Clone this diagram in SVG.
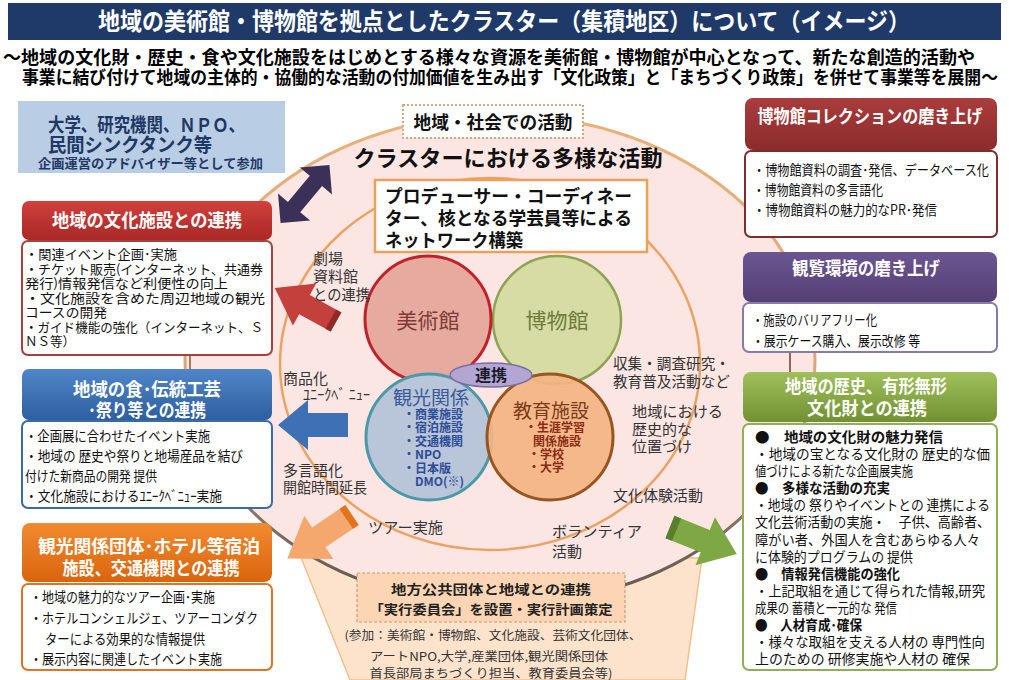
<svg xmlns="http://www.w3.org/2000/svg" width="1009" height="680" viewBox="0 0 1009 680">
<defs>
  <linearGradient id="ring" x1="0" y1="0" x2="0" y2="1">
    <stop offset="0" stop-color="#e9b27a"/>
    <stop offset="0.55" stop-color="#dca57a"/>
    <stop offset="0.8" stop-color="#8a7668"/>
    <stop offset="1" stop-color="#5e534c"/>
  </linearGradient>
  <linearGradient id="gRed" x1="0" y1="0" x2="0" y2="1"><stop offset="0" stop-color="#d1403c"/><stop offset="1" stop-color="#a92826"/></linearGradient>
  <linearGradient id="gBlue" x1="0" y1="0" x2="0" y2="1"><stop offset="0" stop-color="#4f86c8"/><stop offset="1" stop-color="#2e5f9f"/></linearGradient>
  <linearGradient id="gOrange" x1="0" y1="0" x2="0" y2="1"><stop offset="0" stop-color="#f28a30"/><stop offset="1" stop-color="#d9650d"/></linearGradient>
  <linearGradient id="gMaroon" x1="0" y1="0" x2="0" y2="1"><stop offset="0" stop-color="#aa3c3c"/><stop offset="1" stop-color="#8c2c2c"/></linearGradient>
  <linearGradient id="gPurple" x1="0" y1="0" x2="0" y2="1"><stop offset="0" stop-color="#6b5692"/><stop offset="1" stop-color="#553f74"/></linearGradient>
  <linearGradient id="gGreen" x1="0" y1="0" x2="0" y2="1"><stop offset="0" stop-color="#a0c05c"/><stop offset="1" stop-color="#719132"/></linearGradient>
</defs>
<style>
  text { font-family: "Noto Sans CJK JP", "Noto Sans CJK SC", sans-serif; }
  .b { font-weight: 700; }
  .hd { fill: #ffffff; font-weight: 700; font-size: 18px; }
  .bd { fill: #111111; font-size: 14px; }
  .sm { fill: #111111; font-size: 13px; }
  .lbl { fill: #333333; font-size: 15px; }
  .body { fill: #ffffff; stroke-width: 2; }
</style>

<rect x="0" y="0" width="1009" height="680" fill="#ffffff"/>

<!-- background shapes -->
<g id="background">
  <polygon points="300,555 350,680 685,680 702,558" fill="#fde3cc" stroke="#f2c08e" stroke-width="1.5"/>
  <ellipse cx="500" cy="360" rx="315" ry="245" fill="#fce6e3" stroke="url(#ring)" stroke-width="3"/>
  <ellipse cx="490" cy="364" rx="210" ry="186" fill="none" stroke="#eba262" stroke-width="2.5"/>
</g>

<!-- title -->
<g id="title">
  <rect x="8" y="3" width="993" height="37" fill="#1f3a68"/>
  <text x="504" y="30" text-anchor="middle" class="b" font-size="24" fill="#ffffff" textLength="812" lengthAdjust="spacingAndGlyphs">地域の美術館・博物館を拠点としたクラスター（集積地区）について（イメージ）</text>
  <text x="3" y="64" class="b" font-size="18" fill="#000" textLength="972" lengthAdjust="spacingAndGlyphs">～地域の文化財・歴史・食や文化施設をはじめとする様々な資源を美術館・博物館が中心となって、新たな創造的活動や</text>
  <text x="22" y="84" class="b" font-size="18" fill="#000" textLength="976" lengthAdjust="spacingAndGlyphs">事業に結び付けて地域の主体的・協働的な活動の付加価値を生み出す「文化政策」と「まちづくり政策」を併せて事業等を展開～</text>
</g>

<!-- connectors -->
<g id="connectors">
  <line x1="190" y1="355" x2="190" y2="370" stroke="#a87a5a" stroke-width="2"/>
  <line x1="790" y1="352" x2="790" y2="374" stroke="#8a6a5a" stroke-width="2"/>
  <!-- double arrow -->
  <polygon points="-38,0 -17,-21 -17,-8 17,-8 17,-21 38,0 17,21 17,8 -17,8 -17,21" transform="translate(305,194) rotate(-50)" fill="#3b3158"/>
  <!-- red arrow -->
  <polygon points="0,-11 36,-11 36,-24 70,0 36,24 36,11 0,11" transform="translate(336,322) rotate(209)" fill="#c4403c"/>
  <polygon points="0,-11 6,-11 6,11 0,11" transform="translate(336,322) rotate(209)" fill="#8e2a28"/>
  <!-- blue arrow -->
  <polygon points="0,-12 40,-12 40,-25 70,0 40,25 40,12 0,12" transform="translate(348,425) rotate(180)" fill="#3d70b4"/>
  <!-- orange arrow -->
  <polygon points="0,-12 40,-12 40,-26 78,0 40,26 40,12 0,12" transform="translate(352,515) rotate(146)" fill="#f5a86e"/>
  <polygon points="0,-12 7,-12 7,12 0,12" transform="translate(352,515) rotate(146)" fill="#e3731c"/>
  <!-- green arrow -->
  <polygon points="0,-12 38,-12 38,-26 72,0 38,26 38,12 0,12" transform="translate(670,527) rotate(22)" fill="#7ea844"/>
  <polygon points="0,-12 7,-12 7,12 0,12" transform="translate(670,527) rotate(22)" fill="#5a7e2a"/>
</g>

<!-- left nodes -->
<g id="node-university">
  <rect x="18" y="101" width="267" height="72" fill="#b9cde4"/>
  <text x="48" y="132" class="b" font-size="19" fill="#1f3864" textLength="197" lengthAdjust="spacingAndGlyphs">大学、研究機関、ＮＰＯ、</text>
  <text x="48" y="152" class="b" font-size="19" fill="#1f3864" textLength="164" lengthAdjust="spacingAndGlyphs">民間シンクタンク等</text>
  <text x="38" y="168" class="b" font-size="13" fill="#1f3864" textLength="225" lengthAdjust="spacingAndGlyphs">企画運営のアドバイザー等として参加</text>
</g>

<g id="node-culture-facility">
  <rect x="22" y="241" width="250" height="114" rx="6" class="body" stroke="#a8403e"/>
  <rect x="22" y="201" width="250" height="39" rx="7" fill="url(#gRed)"/>
  <text x="147" y="227" text-anchor="middle" class="hd" textLength="190" lengthAdjust="spacingAndGlyphs">地域の文化施設との連携</text>
  <text x="25" y="259" class="sm" textLength="152" lengthAdjust="spacingAndGlyphs">・関連イベント企画･実施</text>
  <text x="25" y="274" class="sm" textLength="238" lengthAdjust="spacingAndGlyphs">・チケット販売(インターネット、共通券</text>
  <text x="25" y="288" class="sm" textLength="203" lengthAdjust="spacingAndGlyphs">発行)情報発信など利便性の向上</text>
  <text x="25" y="303" class="sm" textLength="240" lengthAdjust="spacingAndGlyphs">・文化施設を含めた周辺地域の観光</text>
  <text x="25" y="317" class="sm" textLength="82" lengthAdjust="spacingAndGlyphs">コースの開発</text>
  <text x="25" y="332" class="sm" textLength="238" lengthAdjust="spacingAndGlyphs">・ガイド機能の強化（インターネット、Ｓ</text>
  <text x="25" y="346" class="sm" textLength="50" lengthAdjust="spacingAndGlyphs">ＮＳ等）</text>
</g>

<g id="node-food-craft">
  <rect x="22" y="421" width="250" height="87" rx="6" class="body" stroke="#3a6aa8"/>
  <rect x="22" y="369" width="250" height="51" rx="7" fill="url(#gBlue)"/>
  <text x="147" y="396" text-anchor="middle" class="hd" textLength="148" lengthAdjust="spacingAndGlyphs">地域の食･伝統工芸</text>
  <text x="147" y="417" text-anchor="middle" class="hd" textLength="118" lengthAdjust="spacingAndGlyphs">･祭り等との連携</text>
  <text x="25" y="441" class="bd" textLength="185" lengthAdjust="spacingAndGlyphs">・企画展に合わせたイベント実施</text>
  <text x="25" y="461" class="bd" textLength="218" lengthAdjust="spacingAndGlyphs">・地域の 歴史や祭りと地場産品を結び</text>
  <text x="25" y="481" class="bd" textLength="132" lengthAdjust="spacingAndGlyphs">付けた新商品の開発 提供</text>
  <text x="25" y="501" class="bd" textLength="197" lengthAdjust="spacingAndGlyphs">・文化施設におけるﾕﾆｰｸﾍﾞﾆｭｰ実施</text>
</g>

<g id="node-tourism">
  <rect x="22" y="584" width="250" height="86" rx="6" class="body" stroke="#e07424"/>
  <rect x="22" y="523" width="250" height="59" rx="8" fill="url(#gOrange)"/>
  <text x="149" y="553" text-anchor="middle" class="hd" textLength="222" lengthAdjust="spacingAndGlyphs">観光関係団体･ホテル等宿泊</text>
  <text x="151" y="575" text-anchor="middle" class="hd" textLength="177" lengthAdjust="spacingAndGlyphs">施設、交通機関との連携</text>
  <text x="30" y="602" class="bd" textLength="185" lengthAdjust="spacingAndGlyphs">・地域の魅力的なツアー企画･実施</text>
  <text x="30" y="623" class="bd" textLength="228" lengthAdjust="spacingAndGlyphs">・ホテルコンシェルジェ、ツアーコンダク</text>
  <text x="45" y="644" class="bd" textLength="160" lengthAdjust="spacingAndGlyphs">ターによる効果的な情報提供</text>
  <text x="30" y="664" class="bd" textLength="192" lengthAdjust="spacingAndGlyphs">・展示内容に関連したイベント実施</text>
</g>

<!-- right nodes -->
<g id="node-collection">
  <rect x="745" y="151" width="252" height="86" rx="6" class="body" stroke="#7e2c2c"/>
  <rect x="745" y="98" width="252" height="52" rx="8" fill="url(#gMaroon)"/>
  <text x="870" y="123" text-anchor="middle" class="hd" font-size="17" textLength="225" lengthAdjust="spacingAndGlyphs">博物館コレクションの磨き上げ</text>
  <text x="753" y="175" class="bd" textLength="236" lengthAdjust="spacingAndGlyphs">・博物館資料の調査･発信、データベース化</text>
  <text x="753" y="195" class="bd" textLength="130" lengthAdjust="spacingAndGlyphs">・博物館資料の多言語化</text>
  <text x="753" y="215" class="bd" textLength="184" lengthAdjust="spacingAndGlyphs">・博物館資料の魅力的なPR･発信</text>
</g>

<g id="node-viewing">
  <rect x="743" y="303" width="254" height="49" rx="6" class="body" stroke="#8a7aa8"/>
  <rect x="743" y="252" width="254" height="50" rx="8" fill="url(#gPurple)"/>
  <text x="866" y="275" text-anchor="middle" class="hd" font-size="17" textLength="148" lengthAdjust="spacingAndGlyphs">観覧環境の磨き上げ</text>
  <text x="752" y="325" class="bd" textLength="125" lengthAdjust="spacingAndGlyphs">・施設のバリアフリー化</text>
  <text x="752" y="346" class="bd" textLength="168" lengthAdjust="spacingAndGlyphs">・展示ケース購入、展示改修 等</text>
</g>

<g id="node-heritage">
  <rect x="743" y="424" width="254" height="246" rx="6" class="body" stroke="#8fb055"/>
  <rect x="743" y="372" width="254" height="50" rx="8" fill="url(#gGreen)"/>
  <text x="866" y="393" text-anchor="middle" class="hd" font-size="17" textLength="162" lengthAdjust="spacingAndGlyphs">地域の歴史、有形無形</text>
  <text x="867" y="415" text-anchor="middle" class="hd" font-size="17" textLength="120" lengthAdjust="spacingAndGlyphs">文化財との連携</text>
  <text x="755" y="442" class="bd b" textLength="188" lengthAdjust="spacingAndGlyphs">●　地域の文化財の魅力発信</text>
  <text x="755" y="459" class="bd" textLength="235" lengthAdjust="spacingAndGlyphs">・地域の宝となる文化財の 歴史的な価</text>
  <text x="755" y="476" class="bd" textLength="158" lengthAdjust="spacingAndGlyphs">値づけによる新たな企画展実施</text>
  <text x="755" y="493" class="bd b" textLength="135" lengthAdjust="spacingAndGlyphs">●　多様な活動の充実</text>
  <text x="755" y="510" class="bd" textLength="235" lengthAdjust="spacingAndGlyphs">・地域の 祭りやイベントとの 連携による</text>
  <text x="755" y="527" class="bd" textLength="235" lengthAdjust="spacingAndGlyphs">文化芸術活動の実施・　子供、高齢者、</text>
  <text x="755" y="545" class="bd" textLength="225" lengthAdjust="spacingAndGlyphs">障がい者、外国人を含むあらゆる人々</text>
  <text x="755" y="562" class="bd" textLength="158" lengthAdjust="spacingAndGlyphs">に体験的プログラムの 提供</text>
  <text x="755" y="579" class="bd b" textLength="145" lengthAdjust="spacingAndGlyphs">●　情報発信機能の強化</text>
  <text x="755" y="596" class="bd" textLength="230" lengthAdjust="spacingAndGlyphs">・上記取組を通じて得られた情報,研究</text>
  <text x="755" y="613" class="bd" textLength="142" lengthAdjust="spacingAndGlyphs">成果の 蓄積と一元的な 発信</text>
  <text x="755" y="630" class="bd b" textLength="107" lengthAdjust="spacingAndGlyphs">●　人材育成･確保</text>
  <text x="755" y="647" class="bd" textLength="230" lengthAdjust="spacingAndGlyphs">・様々な取組を支える人材の 専門性向</text>
  <text x="755" y="664" class="bd" textLength="215" lengthAdjust="spacingAndGlyphs">上のための 研修実施や人材の 確保</text>
</g>

<!-- center nodes -->
<g id="node-society">
  <rect x="403" y="105" width="180" height="33" fill="#ffffff" stroke="#d9a878" stroke-width="2" stroke-dasharray="2,2"/>
  <text x="493" y="129" text-anchor="middle" class="b" font-size="18" fill="#111" textLength="159" lengthAdjust="spacingAndGlyphs">地域・社会での活動</text>
</g>

<g id="node-cluster-title">
  <text x="508" y="166" text-anchor="middle" class="b" font-size="22" fill="#111" textLength="309" lengthAdjust="spacingAndGlyphs">クラスターにおける多様な活動</text>
</g>

<g id="node-producer">
  <rect x="375" y="180" width="272" height="72" fill="#ffffff" stroke="#eda05a" stroke-width="2.5"/>
  <text x="385" y="203" class="b" font-size="18" fill="#111" textLength="247" lengthAdjust="spacingAndGlyphs">プロデューサー・コーディネー</text>
  <text x="385" y="225" class="b" font-size="18" fill="#111" textLength="247" lengthAdjust="spacingAndGlyphs">ター、核となる学芸員等による</text>
  <text x="385" y="247" class="b" font-size="18" fill="#111" textLength="138" lengthAdjust="spacingAndGlyphs">ネットワーク構築</text>
</g>

<g id="node-museum-history">
  <circle cx="557" cy="320" r="64" fill="#d6dca4" stroke="#8ea454" stroke-width="2.5"/>
  <text x="557" y="328" text-anchor="middle" font-size="21" fill="#6e7a3c">博物館</text>
</g>

<g id="node-museum-art">
  <circle cx="428" cy="319" r="63" fill="#e6a69b" fill-opacity="0.95" stroke="#c2202b" stroke-width="3"/>
  <text x="428" y="328" text-anchor="middle" font-size="21" fill="#7e3a36">美術館</text>
</g>

<g id="node-tourism-circle">
  <circle cx="429" cy="437" r="63" fill="#b9c5d8" stroke="#4b98a8" stroke-width="3"/>
  <text x="431" y="405" text-anchor="middle" font-size="19" fill="#3b5a98">観光関係</text>
  <text x="403" y="419" class="b" font-size="12" fill="#2d4d98">・商業施設</text>
  <text x="403" y="432" class="b" font-size="12" fill="#2d4d98">・宿泊施設</text>
  <text x="403" y="446" class="b" font-size="12" fill="#2d4d98">・交通機関</text>
  <text x="403" y="459" class="b" font-size="12" fill="#2d4d98">・NPO</text>
  <text x="403" y="473" class="b" font-size="12" fill="#2d4d98">・日本版</text>
  <text x="415" y="486" class="b" font-size="12" fill="#2d4d98">DMO(※)</text>
</g>

<g id="node-education">
  <circle cx="550" cy="437" r="63" fill="#f3b483" fill-opacity="0.92" stroke="#97551f" stroke-width="3"/>
  <text x="551" y="418" text-anchor="middle" font-size="19" fill="#7a3a18">教育施設</text>
  <text x="525" y="432" class="b" font-size="12" fill="#8a2a12">・生涯学習</text>
  <text x="533" y="446" class="b" font-size="12" fill="#8a2a12">関係施設</text>
  <text x="528" y="459" class="b" font-size="12" fill="#8a2a12">・学校</text>
  <text x="528" y="472" class="b" font-size="12" fill="#8a2a12">・大学</text>
</g>

<g id="node-renkei">
  <ellipse cx="491" cy="375" rx="41" ry="12" fill="#b3a6d3" stroke="#7c6ca2" stroke-width="1.5"/>
  <text x="491" y="381" text-anchor="middle" class="b" font-size="16" fill="#1a1a2a">連携</text>
</g>

<g id="labels">
  <text x="313" y="264" class="lbl">劇場</text>
  <text x="313" y="282" class="lbl">資料館</text>
  <text x="313" y="300" class="lbl" textLength="57" lengthAdjust="spacingAndGlyphs">との連携</text>
  <text x="283" y="384" class="lbl">商品化</text>
  <text x="303" y="400" class="lbl" font-size="14" textLength="67" lengthAdjust="spacingAndGlyphs">ﾕﾆｰｸﾍﾞ ﾆｭｰ</text>
  <text x="283" y="476" class="lbl">多言語化</text>
  <text x="283" y="493" class="lbl" textLength="84" lengthAdjust="spacingAndGlyphs">開館時間延長</text>
  <text x="613" y="369" class="lbl" textLength="117" lengthAdjust="spacingAndGlyphs">収集・調査研究・</text>
  <text x="613" y="387" class="lbl" textLength="117" lengthAdjust="spacingAndGlyphs">教育普及活動など</text>
  <text x="632" y="417" class="lbl" textLength="91" lengthAdjust="spacingAndGlyphs">地域における</text>
  <text x="632" y="435" class="lbl">歴史的な</text>
  <text x="632" y="452" class="lbl">位置づけ</text>
  <text x="613" y="501" class="lbl" textLength="90" lengthAdjust="spacingAndGlyphs">文化体験活動</text>
  <text x="368" y="533" class="lbl" textLength="75" lengthAdjust="spacingAndGlyphs">ツアー実施</text>
  <text x="552" y="537" class="lbl" textLength="90" lengthAdjust="spacingAndGlyphs">ボランティア</text>
  <text x="552" y="557" class="lbl">活動</text>
</g>

<g id="node-committee">
  <rect x="357" y="573" width="268" height="49" fill="#fcd6b4" stroke="#c89a70" stroke-width="1.2" stroke-dasharray="3,2"/>
  <text x="491" y="594" text-anchor="middle" class="b" font-size="13" fill="#222" textLength="200" lengthAdjust="spacingAndGlyphs">地方公共団体と地域との連携</text>
  <text x="491" y="614" text-anchor="middle" class="b" font-size="13" fill="#222" textLength="243" lengthAdjust="spacingAndGlyphs">「実行委員会」を設置・実行計画策定</text>
  <text x="493" y="640" text-anchor="middle" font-size="12" fill="#333" textLength="297" lengthAdjust="spacingAndGlyphs">(参加：美術館・博物館、文化施設、芸術文化団体、</text>
  <text x="489" y="661" text-anchor="middle" font-size="12" fill="#333" textLength="238" lengthAdjust="spacingAndGlyphs">アートNPO,大学,産業団体,観光関係団体</text>
  <text x="491" y="678" text-anchor="middle" font-size="12" fill="#333" textLength="243" lengthAdjust="spacingAndGlyphs">首長部局まちづくり担当、教育委員会等)</text>
</g>
</svg>
